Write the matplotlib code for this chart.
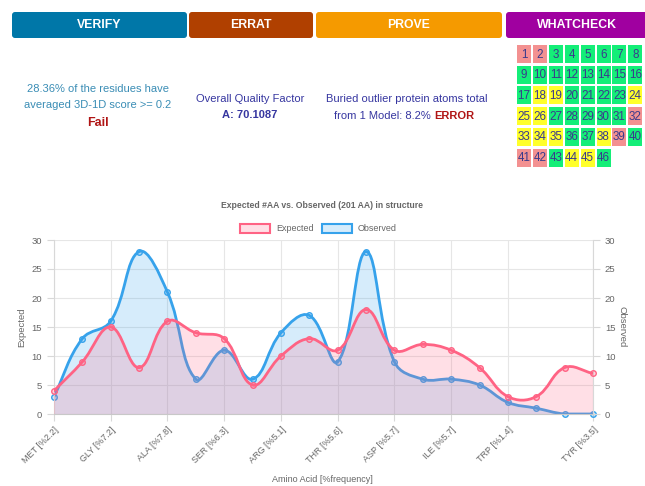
import numpy as np
import matplotlib
matplotlib.use("Agg")
import matplotlib.pyplot as plt
from matplotlib.path import Path
from matplotlib.patches import PathPatch, FancyBboxPatch, Rectangle

plt.rcParams["font.family"] = ["Liberation Sans", "DejaVu Sans"]

# chart data: 20 residue types, every other label is shown (autoskip)
amino_acids = [
    "MET [%2.2]", "PRO [%4.5]", "GLY [%7.2]", "PHE [%4.0]", "ALA [%7.8]",
    "GLU [%7.0]", "SER [%6.3]", "HIS [%2.5]", "ARG [%5.1]", "VAL [%6.5]",
    "THR [%5.6]", "LEU [%9.0]", "ASP [%5.7]", "LYS [%6.0]", "ILE [%5.7]",
    "ASN [%4.0]", "TRP [%1.4]", "CYS [%1.5]", "GLN [%4.0]", "TYR [%3.5]",
]
expected = [4, 9, 15, 8, 16, 14, 13, 5, 10, 13, 11, 18, 11, 12, 11, 8, 3, 3, 8, 7]
observed = [3, 13, 16, 28, 21, 6, 11, 6, 14, 17, 9, 28, 9, 6, 6, 5, 2, 1, 0, 0]

# WHATCHECK residue box status: r = error, y = warning, g = ok
whatcheck_status = list("rrgggggg" + "gggggggg" + "gyyggggy" + "yygggggr"
                        + "yyyggyrg" + "rrgyyg")
status_colors = {"r": "#f39191", "g": "#14ee78", "y": "#ffff2a"}

header_tabs = [("VERIFY", 12, 187, "#0077a8"), ("ERRAT", 189, 313, "#b04000"),
               ("PROVE", 316, 502, "#f59a00"), ("WHATCHECK", 506, 650, "#a000a0")]

RED = (255 / 255, 99 / 255, 132 / 255)
BLUE = (54 / 255, 162 / 255, 235 / 255)
GRAY = "#666666"

fig = plt.figure(figsize=(6.45, 4.86), dpi=100)
fig.patch.set_facecolor("white")

# overlay in pixel coords for the dashboard part
top = fig.add_axes([0, 0, 1, 1])
top.set_xlim(0, 645)
top.set_ylim(486, 0)
top.axis("off")

for name, x0, x1, color in header_tabs:
    top.add_patch(FancyBboxPatch((x0 + 2, 14), x1 - x0 - 4, 22,
                                 boxstyle="round,pad=2,rounding_size=3",
                                 facecolor=color, edgecolor="none"))
    top.text((x0 + x1) / 2 if name != "WHATCHECK" else 577, 25.5, name,
             color="white", fontsize=8.8, fontweight="bold", ha="center", va="center")

teal = "#3a8db5"
fs = 8
top.text(98, 89, "28.36% of the residues have", color=teal, fontsize=fs, ha="center", va="center")
top.text(98, 105, "averaged 3D-1D score >= 0.2", color=teal, fontsize=fs, ha="center", va="center")
top.text(98, 123, "Fail", color="#b01515", fontsize=9, fontweight="bold", ha="center", va="center")

navy = "#3636a0"
top.text(250, 99, "Overall Quality Factor", color=navy, fontsize=fs, ha="center", va="center")
top.text(250, 115, "A: 70.1087", color=navy, fontsize=fs, fontweight="bold", ha="center", va="center")

top.text(407, 99, "Buried outlier protein atoms total", color=navy, fontsize=fs, ha="center", va="center")
top.text(434, 116, "from 1 Model: 8.2% ", color=navy, fontsize=fs, ha="right", va="center")
top.text(434, 116, "ERROR", color="#b01515", fontsize=fs, fontweight="bold", ha="left", va="center")

for i, st in enumerate(whatcheck_status):
    row, col = divmod(i, 8)
    cx = 517 + col * 15.9
    cy = 45 + row * 20.7
    top.add_patch(Rectangle((cx, cy), 14, 18, facecolor=status_colors[st], edgecolor="none"))
    top.text(cx + 7, cy + 9.5, str(i + 1), color="#3a3a8c", fontsize=8.4, ha="center", va="center")

# chart
ax = fig.add_axes([54 / 645, 1 - 414 / 486, 539 / 645, 174 / 486])
n = len(amino_acids)
ax.set_xlim(0, n - 1)
ax.set_ylim(0, 30)


def spline_verts(values, tension=0.4):
    pts = ax.transData.transform(np.column_stack([np.arange(len(values)), values]))
    y_lo = ax.transData.transform((0, 0))[1]
    y_hi = ax.transData.transform((0, 30))[1]
    ctrl = []
    for i in range(len(pts)):
        prev = pts[i - 1] if i > 0 else pts[i]
        cur = pts[i]
        nxt = pts[i + 1] if i < len(pts) - 1 else pts[i]
        d01 = np.hypot(*(cur - prev))
        d12 = np.hypot(*(nxt - cur))
        tot = d01 + d12
        s01 = d01 / tot if tot else 0
        s12 = d12 / tot if tot else 0
        c_in = cur - tension * s01 * (nxt - prev)
        c_out = cur + tension * s12 * (nxt - prev)
        c_in[1] = np.clip(c_in[1], y_lo, y_hi)
        c_out[1] = np.clip(c_out[1], y_lo, y_hi)
        ctrl.append((c_in, c_out))
    verts = [pts[0]]
    for i in range(1, len(pts)):
        verts += [ctrl[i - 1][1], ctrl[i][0], pts[i]]
    return ax.transData.inverted().transform(np.array(verts))


def draw_series(values, color, z):
    verts = spline_verts(values)
    codes = [Path.MOVETO] + [Path.CURVE4] * (len(verts) - 1)
    fill_verts = np.vstack([verts, [[n - 1, 0], [0, 0], [0, 0]]])
    fill_codes = codes + [Path.LINETO, Path.LINETO, Path.CLOSEPOLY]
    ax.add_patch(PathPatch(Path(fill_verts, fill_codes), facecolor=(*color, 0.2),
                           edgecolor="none", zorder=z))
    ax.add_patch(PathPatch(Path(verts, codes), facecolor="none", edgecolor=color,
                           lw=2, zorder=z + 0.1, capstyle="round"))
    ax.plot(range(n), values, "o", ms=4, mfc=(*color, 0.25), mec=color, mew=1,
            zorder=z + 0.2, clip_on=False)


draw_series(observed, BLUE, 2)
draw_series(expected, RED, 3)

shown = list(range(0, n - 2, 2)) + [n - 1]
ax.set_xticks(shown)
ax.set_xticklabels([amino_acids[i] for i in shown], rotation=45, ha="right",
                   rotation_mode="anchor", color=GRAY, fontsize=6.5)
ax.set_yticks(range(0, 31, 5))
ax.tick_params(axis="y", labelsize=6.8, labelcolor=GRAY, color="#d8d8d8", length=5, width=0.8)
ax.tick_params(axis="x", color="#d8d8d8", length=5, width=0.8, pad=3)
ax.grid(True, color="#e6e6e6", lw=0.8)
ax.set_axisbelow(True)
ax.spines["top"].set_visible(False)
ax.spines["left"].set_color("#d8d8d8")
ax.spines["right"].set_color("#d8d8d8")
ax.spines["bottom"].set_color("#c8c8c8")
ax.set_ylabel("Expected", color=GRAY, fontsize=6.8, labelpad=4)

ax2 = ax.twinx()
ax2.set_ylim(0, 30)
ax2.set_yticks(range(0, 31, 5))
ax2.tick_params(axis="y", labelsize=6.8, labelcolor=GRAY, color="#d8d8d8", length=5, width=0.8)
for side in ["top", "left", "bottom", "right"]:
    ax2.spines[side].set_visible(False)
ax2.set_ylabel("Observed", color=GRAY, fontsize=6.8, rotation=270, labelpad=8)

# title, legend, x axis title
top.text(322, 205, "Expected #AA vs. Observed (201 AA) in structure", color=GRAY,
         fontsize=6.2, fontweight="bold", ha="center", va="center")
top.add_patch(Rectangle((240, 224), 30, 9, facecolor=(*RED, 0.2), edgecolor=RED, lw=1.5))
top.text(276, 228.5, "Expected", color=GRAY, fontsize=6.5, ha="left", va="center")
top.add_patch(Rectangle((322, 224), 30, 9, facecolor=(*BLUE, 0.2), edgecolor=BLUE, lw=1.5))
top.text(358, 228.5, "Observed", color=GRAY, fontsize=6.5, ha="left", va="center")
top.text(322, 479, "Amino Acid [%frequency]", color=GRAY, fontsize=6.5, ha="center", va="center")

fig.savefig("out.png", dpi=100)
